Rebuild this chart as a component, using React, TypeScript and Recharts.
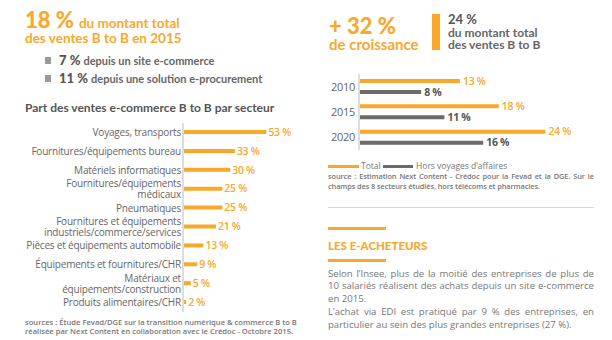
import React from 'react';
import { BarChart, Bar, XAxis, YAxis, LabelList } from 'recharts';

const sectors = [
  'Voyages, transports',
  'Fournitures/équipements bureau',
  'Matériels informatiques',
  'Fournitures/équipements\nmédicaux',
  'Pneumatiques',
  'Fournitures et équipements\nindustriels/commerce/services',
  'Pièces et équipements automobile',
  'Équipements et fournitures/CHR',
  'Matériaux et\néquipements/construction',
  'Produits alimentaires/CHR',
];
const sectorShares = [53, 33, 30, 25, 25, 21, 13, 9, 5, 2];

const years = ['2010', '2015', '2020'];
const totalShares = [13, 18, 24];
const horsVoyagesShares = [8, 11, 16];

const ORANGE = '#F9A82B';
const DARK = '#6B6B6B';
const GREY = '#777777';
const BODY = 'Open Sans, sans-serif';
const HEAD = 'Lato, sans-serif';

const sectorData = sectors.map((s, i) => ({ sector: s, value: sectorShares[i] }));
const yearData = years.map((y, i) => ({ year: y, total: totalShares[i], hors: horsVoyagesShares[i] }));

const pct = (v: any) => `${v} %`;

const SectorTick = (props: any) => {
  const { x, y, payload } = props;
  const lines = String(payload.value).split('\n');
  const lh = 11.2;
  const start = -((lines.length - 1) * lh) / 2;
  return (
    <text x={x} y={y} textAnchor="end" fill="#666" fontSize={10} letterSpacing={-0.2} fontFamily={BODY}>
      {lines.map((l, i) => (
        <tspan key={i} x={x} dy={i === 0 ? start + 3.6 : lh}>
          {l}
        </tspan>
      ))}
    </text>
  );
};

const abs = (left: number, top: number, extra: React.CSSProperties = {}): React.CSSProperties => ({
  position: 'absolute',
  left,
  top,
  lineHeight: 1,
  whiteSpace: 'nowrap',
  ...extra,
});

export default function App() {
  return (
    <div style={{ position: 'absolute', left: 0, top: 0, width: 612, height: 340, background: '#fff', overflow: 'hidden' }}>
      {/* Top left headline */}
      <div style={abs(25, 9, { fontFamily: HEAD, fontWeight: 900, fontSize: 22, color: ORANGE, lineHeight: '22px' })}>
        18 %<span style={{ fontSize: 13.5, fontWeight: 700, marginLeft: 5 }}>du montant total</span>
      </div>
      <div style={abs(25, 32, { fontFamily: HEAD, fontWeight: 700, fontSize: 13.5, color: ORANGE })}>des ventes B to B en 2015</div>

      <div style={{ position: 'absolute', left: 45, top: 57, width: 6, height: 7, background: '#9a9a9a' }} />
      <div style={abs(59, 54, { fontFamily: HEAD, fontWeight: 900, fontSize: 13, color: '#555' })}>
        7 % <span style={{ fontSize: 11, fontWeight: 700, color: '#666' }}>depuis un site e-commerce</span>
      </div>
      <div style={{ position: 'absolute', left: 45, top: 75, width: 6, height: 7, background: '#9a9a9a' }} />
      <div style={abs(59, 72, { fontFamily: HEAD, fontWeight: 900, fontSize: 13, color: '#555' })}>
        11 % <span style={{ fontSize: 11, fontWeight: 700, color: '#666' }}>depuis une solution e-procurement</span>
      </div>

      <div style={abs(25, 102, { fontFamily: HEAD, fontWeight: 700, fontSize: 12, color: '#555' })}>
        Part des ventes e-commerce B to B par secteur
      </div>

      {/* Left chart */}
      <div style={{ position: 'absolute', left: 0, top: 123 }}>
        <BarChart width={331} height={189} data={sectorData} layout="vertical" margin={{ top: 0, right: 30, bottom: 0, left: 0 }}>
          <XAxis type="number" domain={[0, 75]} hide />
          <YAxis
            type="category"
            dataKey="sector"
            width={183}
            tick={<SectorTick />}
            tickLine={false}
            tickSize={0}
            tickMargin={2}
            axisLine={{ stroke: '#dddddd', strokeWidth: 2 }}
            interval={0}
          />
          <Bar dataKey="value" fill={ORANGE} barSize={4} isAnimationActive={false}>
            <LabelList dataKey="value" position="right" offset={2} formatter={pct} fill={ORANGE} fontSize={10.5} fontWeight={600} fontFamily={BODY} letterSpacing={-0.3} />
          </Bar>
        </BarChart>
      </div>

      <div style={abs(25, 318, { fontFamily: BODY, fontWeight: 600, fontSize: 7.6, color: GREY, lineHeight: '9px' })}>
        sources : Étude Fevad/DGE sur la transition numérique &amp; commerce B to B
        <br />
        réalisée par Next Content en collaboration avec le Crédoc - Octobre 2015.
      </div>

      {/* Top right headline */}
      <div style={abs(329, 15, { fontFamily: HEAD, fontWeight: 900, fontSize: 22, color: ORANGE })}>+ 32 %</div>
      <div style={abs(329, 37, { fontFamily: HEAD, fontWeight: 700, fontSize: 15, color: ORANGE })}>de croissance</div>
      <div style={{ position: 'absolute', left: 432, top: 14, width: 8, height: 36, background: ORANGE }} />
      <div style={abs(448, 13, { fontFamily: HEAD, fontWeight: 700, fontSize: 13, color: '#555' })}>24 %</div>
      <div style={abs(448, 27, { fontFamily: HEAD, fontWeight: 700, fontSize: 12, color: '#666' })}>du montant total</div>
      <div style={abs(448, 39, { fontFamily: HEAD, fontWeight: 700, fontSize: 12, color: '#666' })}>des ventes B to B</div>

      {/* Right chart */}
      <div style={{ position: 'absolute', left: 300, top: 74 }}>
        <BarChart width={312} height={76} data={yearData} layout="vertical" barGap={7} margin={{ top: 0, right: 20, bottom: 0, left: 0 }}>
          <XAxis type="number" domain={[0, 30]} hide />
          <YAxis
            type="category"
            dataKey="year"
            width={59}
            tick={{ fill: '#666', fontSize: 11, fontFamily: BODY, letterSpacing: -0.3 }}
            tickLine={false}
            tickSize={0}
            tickMargin={4}
            axisLine={{ stroke: '#dddddd', strokeWidth: 2 }}
          />
          <Bar dataKey="total" fill={ORANGE} barSize={4} isAnimationActive={false}>
            <LabelList dataKey="total" position="right" offset={3} formatter={pct} fill={ORANGE} fontSize={10.5} fontWeight={600} fontFamily={BODY} letterSpacing={-0.3} />
          </Bar>
          <Bar dataKey="hors" fill={DARK} barSize={4} isAnimationActive={false}>
            <LabelList dataKey="hors" position="right" offset={3} formatter={pct} fill="#555" fontSize={10.5} fontWeight={700} fontFamily={BODY} letterSpacing={-0.3} />
          </Bar>
        </BarChart>
      </div>

      {/* Legend */}
      <div style={{ position: 'absolute', left: 328, top: 165, width: 31, height: 3, background: ORANGE }} />
      <div style={abs(361, 162, { fontFamily: BODY, fontSize: 8.5, color: GREY })}>Total</div>
      <div style={{ position: 'absolute', left: 383, top: 165, width: 30, height: 3, background: DARK }} />
      <div style={abs(416, 162, { fontFamily: BODY, fontSize: 8.5, color: GREY })}>Hors voyages d’affaires</div>

      <div
        style={{
          position: 'absolute',
          left: 328,
          top: 172,
          width: 266,
          fontFamily: BODY,
          fontWeight: 600,
          fontSize: 7.4,
          letterSpacing: -0.1,
          color: GREY,
          lineHeight: '9.5px',
          textAlign: 'justify',
        }}
      >
        source : Estimation Next Content - Crédoc pour la Fevad et la DGE. Sur le champs des 8 secteurs étudiés, hors télécoms et pharmacies.
      </div>

      <div style={{ position: 'absolute', left: 328, top: 207, width: 266, height: 1, background: '#d5d5d5' }} />
      <div style={{ position: 'absolute', left: 328, top: 227, width: 58, height: 2.5, background: ORANGE }} />
      <div style={abs(328, 240, { fontFamily: HEAD, fontWeight: 900, fontSize: 11.5, color: ORANGE })}>LES E-ACHETEURS</div>
      <div style={{ position: 'absolute', left: 328, top: 259, width: 58, height: 2.5, background: ORANGE }} />

      <div
        style={{
          position: 'absolute',
          left: 328,
          top: 268,
          width: 266,
          fontFamily: BODY,
          fontSize: 9.6,
          color: GREY,
          lineHeight: '12.3px',
          textAlign: 'justify',
        }}
      >
        <div style={{ marginBottom: 1.5 }}>
          Selon l’Insee, plus de la moitié des entreprises de plus de 10 salariés réalisent des achats depuis un site e-commerce en 2015.
        </div>
        <div>L’achat via EDI est pratiqué par 9 % des entreprises, en particulier au sein des plus grandes entreprises (27 %).</div>
      </div>
    </div>
  );
}
